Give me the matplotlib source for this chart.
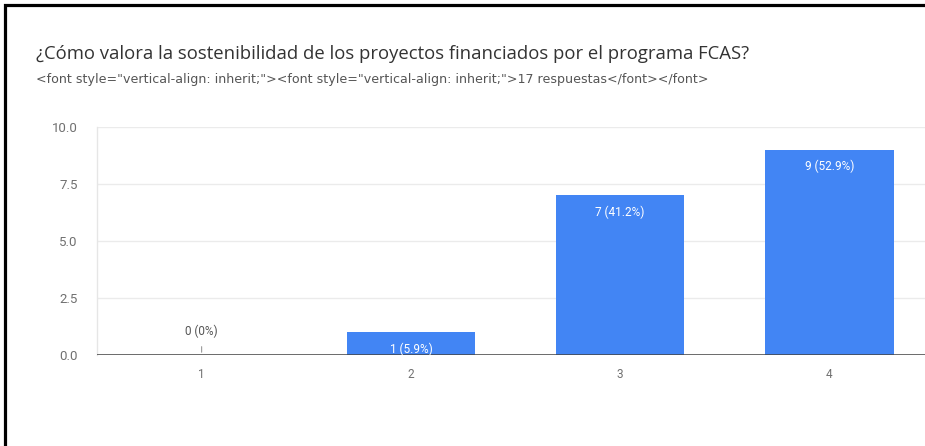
import matplotlib
matplotlib.use("Agg")
import matplotlib.pyplot as plt
from matplotlib.lines import Line2D

title = "¿Cómo valora la sostenibilidad de los proyectos financiados por el programa FCAS?"
subtitle = "<font style=\"vertical-align: inherit;\"><font style=\"vertical-align: inherit;\">17 respuestas</font></font>"
categories = ["1", "2", "3", "4"]
counts = [0, 1, 7, 9]
total = 17
yticks = [0.0, 2.5, 5.0, 7.5, 10.0]

W, H = 925, 446
fig = plt.figure(figsize=(W / 100, H / 100), dpi=100)
fig.patch.set_facecolor("white")
plt.rcParams["font.family"] = ["Roboto", "DejaVu Sans"]

# axes placement in pixels
left, right, bottom, top = 97, 934, 355, 127
ax = fig.add_axes([left / W, 1 - bottom / H, (right - left) / W, (bottom - top) / H])
ax.set_facecolor("white")

x = list(range(len(categories)))
bar_color = "#4285F4"
ax.bar(x, counts, width=0.615, color=bar_color, zorder=3)

ax.set_xlim(-0.5, len(categories) - 0.5)
ax.set_ylim(0, 10)
ax.set_yticks(yticks)
ax.set_yticklabels([f"{v:.1f}" for v in yticks])
ax.set_xticks(x)
ax.set_xticklabels(categories)
ax.tick_params(axis="y", length=0, pad=14, labelsize=9.5, labelcolor="#707070")
ax.tick_params(axis="x", length=0, pad=9, labelsize=8.5, labelcolor="#707070")
ax.grid(axis="y", color="#ebebeb", lw=1, zorder=0)
for s in ["top", "right", "bottom"]:
    ax.spines[s].set_visible(False)
ax.spines["left"].set_color("#e6e6e6")
ax.spines["left"].set_linewidth(1)
ax.axhline(0, color="#444444", lw=1.1, zorder=4)

for xi, c in zip(x, counts):
    lab = f"{c} ({c / total * 100:.1f}%)" if c else f"{c} (0%)"
    if c > 0:
        ax.annotate(lab, (xi, c), xytext=(0, -12), textcoords="offset points",
                    ha="center", va="center", color="white", fontsize=8.5, zorder=5)
    else:
        ax.annotate(lab, (xi, c), xytext=(0, 17), textcoords="offset points",
                    ha="center", va="center", color="#555555", fontsize=8.5, zorder=5)
        ax.annotate("", (xi, c), xytext=(0, 8), textcoords="offset points",
                    arrowprops=dict(arrowstyle="-", color="#999999", lw=0.8))

fig.text(36 / W, 1 - 54 / H, title, fontsize=13.3, color="#333333", ha="left", va="center",
         family=["Open Sans", "DejaVu Sans"])
fig.text(36 / W, 1 - 80 / H, subtitle, fontsize=9.1, color="#555555", ha="left", va="center",
         family=["DejaVu Sans"])

# black frame on left and top
bx, by = 4.5 / W, 1 - 4.5 / H
fig.add_artist(Line2D([bx, bx, 1], [0, by, by], transform=fig.transFigure,
                      color="black", lw=2.3, solid_joinstyle="miter"))

fig.savefig("out.png", dpi=100, facecolor="white")
